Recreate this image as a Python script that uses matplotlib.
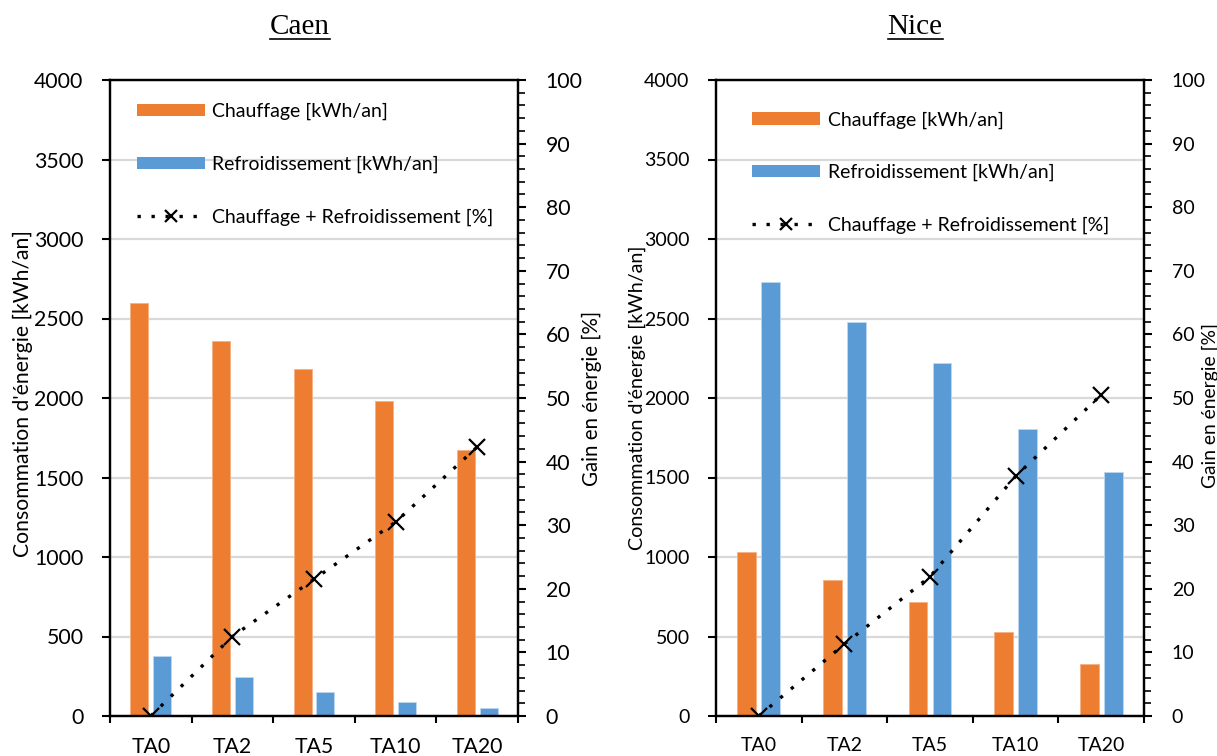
import matplotlib
matplotlib.use("Agg")
import matplotlib.pyplot as plt
from matplotlib.lines import Line2D
from matplotlib.patches import Patch
from matplotlib.ticker import MultipleLocator
import numpy as np

categories = ["TA0", "TA2", "TA5", "TA10", "TA20"]

caen_chauffage = [2600, 2360, 2185, 1980, 1670]
caen_refroid = [375, 248, 150, 88, 48]
caen_gain = [0, 12.5, 21.5, 30.5, 42.3]

nice_chauffage = [1033, 853, 717, 530, 325]
nice_refroid = [2728, 2480, 2218, 1803, 1535]
nice_gain = [0, 11.3, 21.9, 37.7, 50.5]

titles = ["Caen", "Nice"]
lbl_heat = "Chauffage [kWh/an]"
lbl_cool = "Refroidissement [kWh/an]"
lbl_gain = "Chauffage + Refroidissement [%]"
ylabel_left = "Consommation d'énergie [kWh/an]"
ylabel_right = "Gain en énergie [%]"

ORANGE = "#ED7D31"
BLUE = "#5B9BD5"
GRID = "#D9D9D9"

plt.rcParams['font.family'] = ['Lato', 'DejaVu Sans']

W, H = 1217, 756
fig = plt.figure(figsize=(W / 100, H / 100), dpi=100)


def px_axes(l, r, t, b):
    return fig.add_axes([l / W, (H - b) / H, (r - l) / W, (b - t) / H])


panels = [
    dict(box=(110, 518, 80, 716), heat=caen_chauffage, cool=caen_refroid, gain=caen_gain,
         fs=15.3, lfs=14, yl_fs=(15.2, 14.8), yl_pos=((23, 394), (592, 398)),
         leg=(0.065, 0.964), title_x=300),
    dict(box=(716, 1144, 80, 716), heat=nice_chauffage, cool=nice_refroid, gain=nice_gain,
         fs=14.0, lfs=14, yl_fs=(14.2, 13.9), yl_pos=((637, 398), (1210, 405)),
         leg=(0.084, 0.951), title_x=915),
]

for p, title in zip(panels, titles):
    ax = px_axes(*p['box'])
    x = np.arange(len(categories))
    ax.bar(x - 0.14, p['heat'], width=0.22, color=ORANGE, edgecolor="#F4B183", linewidth=0.6, zorder=2)
    ax.bar(x + 0.14, p['cool'], width=0.22, color=BLUE, edgecolor="#BDD7EE", linewidth=0.6, zorder=2)
    ax.set_xlim(-0.5, len(categories) - 0.5)
    ax.set_ylim(0, 4000)
    ax.yaxis.set_major_locator(MultipleLocator(500))
    ax.grid(axis='y', color=GRID, linewidth=1.6, zorder=0)
    ax.set_axisbelow(True)
    ax.set_xticks(np.arange(-0.5, len(categories), 1.0))
    ax.set_xticklabels([])
    ax.set_xticks(x, minor=True)
    ax.set_xticklabels(categories, minor=True, fontsize=p['fs'])
    ax.tick_params(axis='x', which='major', length=5, width=1.5, direction='out')
    ax.tick_params(axis='x', which='minor', length=0, pad=15)
    ax.tick_params(axis='y', which='major', length=6, width=1.5, direction='out', pad=13,
                   labelsize=p['fs'])
    for s in ax.spines.values():
        s.set_linewidth(1.6)
        s.set_color('black')

    ax2 = ax.twinx()
    ax2.set_ylim(0, 100)
    ax2.yaxis.set_major_locator(MultipleLocator(10))
    ax2.yaxis.set_minor_locator(MultipleLocator(2))
    ax2.tick_params(axis='y', which='major', length=6, width=1.5, direction='out', pad=14,
                    labelsize=p['fs'])
    ax2.tick_params(axis='y', which='minor', length=5, width=1.2, direction='out')
    for s in ax2.spines.values():
        s.set_linewidth(1.6)
        s.set_color('black')
    ax2.plot(x, p['gain'], color='black', linestyle=(0, (1, 3.2)), linewidth=2.4,
             marker='x', markersize=12, markeredgewidth=1.6, zorder=3)

    (lx, ly), (rx, ry) = p['yl_pos']
    fig.text(lx / W, (H - ly) / H, ylabel_left, rotation=90, ha='center', va='center',
             fontsize=p['yl_fs'][0])
    fig.text(rx / W, (H - ry) / H, ylabel_right, rotation=90, ha='center', va='center',
             fontsize=p['yl_fs'][1])

    handles = [
        Patch(facecolor=ORANGE, edgecolor='none'),
        Patch(facecolor=BLUE, edgecolor='none'),
        Line2D([0], [0], color='black', linestyle=(0, (1, 3.2)), linewidth=2.4,
               marker='x', markersize=9, markeredgewidth=1.6),
    ]
    ax2.legend(handles, [lbl_heat, lbl_cool, lbl_gain], loc='upper left',
               bbox_to_anchor=p['leg'], frameon=False, fontsize=p['lfs'],
               handlelength=3.5, handleheight=0.62, handletextpad=0.4,
               labelspacing=1.82, borderpad=0, borderaxespad=0)

titles_txt = []
for p, title in zip(panels, titles):
    titles_txt.append(fig.text(p['title_x'] / W, (H - 27) / H, title, ha='center', va='center',
                               fontsize=21, family='Liberation Serif'))

fig.canvas.draw()
renderer = fig.canvas.get_renderer()
for t in titles_txt:
    bb = t.get_window_extent(renderer)
    y = (H - 39) / H
    fig.add_artist(Line2D([bb.x0 / W, bb.x1 / W], [y, y], color='black', linewidth=1.2,
                          transform=fig.transFigure))

fig.savefig("out.png", dpi=100)
